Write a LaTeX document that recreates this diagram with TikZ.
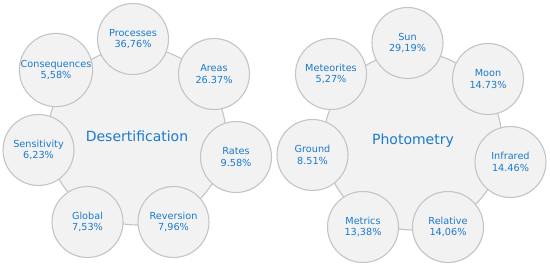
\documentclass[tikz,border=0pt]{standalone}
\usepackage{fontspec}
\setmainfont{DejaVu Sans}
\definecolor{txt}{HTML}{1A7ACC}
\definecolor{bord}{HTML}{C4C4C4}
\definecolor{fillc}{HTML}{F2F2F2}
\begin{document}
\begin{tikzpicture}[x=1pt,y=-1pt,
  hub/.style={circle, draw=bord, fill=fillc, line width=1.1pt, minimum size=178pt, inner sep=0pt, text=txt, font=\fontsize{14}{16}\selectfont},
  sat/.style={circle, draw=bord, fill=fillc, line width=1.1pt, minimum size=71pt, inner sep=0pt, text=txt, font=\fontsize{9.7}{11.5}\selectfont, align=center}]
\useasboundingbox (0,0) rectangle (550,266);
% left diagram
\node[hub] (hubL) at (137,136) {Desertification};
\node[sat] (proc) at (133,39) {Processes\\36,76\%};
\node[sat] (area) at (214,74) {Areas\\26.37\%};
\node[sat] (rate) at (236,157) {Rates\\9.58\%};
\node[sat] (reve) at (173.5,222) {Reversion\\7,96\%};
\node[sat] (glob) at (87.5,222) {Global\\7,53\%};
\node[sat] (sens) at (38.5,150) {Sensitivity\\6,23\%};
\node[sat] (cons) at (56,70) {Consequences\\5,58\%};
% right diagram
\node[hub] (hubR) at (413,141) {Photometry};
\node[sat] (sun) at (407.5,43) {Sun\\29,19\%};
\node[sat] (moon) at (488,79) {Moon\\14.73\%};
\node[sat] (infr) at (510.5,162) {Infrared\\14.46\%};
\node[sat] (rela) at (448,227) {Relative\\14,06\%};
\node[sat] (metr) at (363,227) {Metrics\\13,38\%};
\node[sat] (grnd) at (312.5,155) {Ground\\8.51\%};
\node[sat] (mete) at (331,74) {Meteorites\\5,27\%};
\end{tikzpicture}
\end{document}
